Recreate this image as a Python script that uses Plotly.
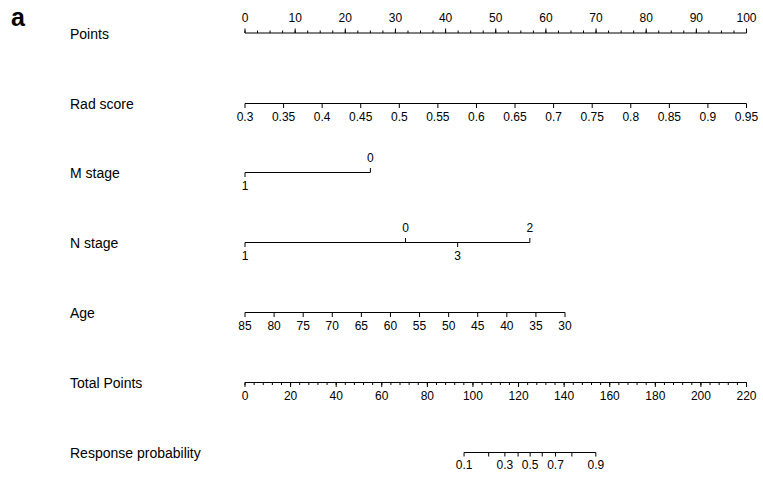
import plotly.graph_objects as go

W, H = 763, 486
LEFT_PX, RIGHT_PX = 245, 746.5
FONT = "Liberation Sans, Arial, Helvetica, sans-serif"

# ---------------- data ----------------
row_names = ["Points", "Rad score", "M stage", "N stage", "Age",
             "Total Points", "Response probability"]
row_y = [33, 103.5, 172.5, 242.5, 312.5, 382.5, 452.5]

points_labels = [0, 10, 20, 30, 40, 50, 60, 70, 80, 90, 100]
points_minor = [i * 2.5 for i in range(41)]

rad_labels = [0.3, 0.35, 0.4, 0.45, 0.5, 0.55, 0.6, 0.65, 0.7, 0.75,
              0.8, 0.85, 0.9, 0.95]
rad_text = ["0.3", "0.35", "0.4", "0.45", "0.5", "0.55", "0.6", "0.65",
            "0.7", "0.75", "0.8", "0.85", "0.9", "0.95"]

m_levels = ["1", "0"]
m_points = [0, 25]
m_side = [1, -1]          # 1 = below, -1 = above

n_levels = ["1", "0", "3", "2"]
n_points = [0, 32, 42.4, 56.8]
n_side = [1, -1, 1, -1]

age_labels = [85, 80, 75, 70, 65, 60, 55, 50, 45, 40, 35, 30]

total_labels = [0, 20, 40, 60, 80, 100, 120, 140, 160, 180, 200, 220]
total_minor = [i * 4 for i in range(56)]

prob_values = [0.1, 0.2, 0.3, 0.4, 0.5, 0.6, 0.7, 0.8, 0.9]
prob_total = [96.1, 106.9, 114.0, 119.8, 125.1, 130.4, 136.2, 143.4, 153.9]
prob_label_values = ["0.1", "", "0.3", "", "0.5", "", "0.7", "", "0.9"]


# ---------------- helpers ----------------
def axis_range(v0, p0, v1, p1):
    k = (v1 - v0) / (p1 - p0)
    return [v0 - p0 * k, v0 + (W - p0) * k]


fig = go.Figure()
LINE = dict(color="black", width=1)
MAJ, MIN = 4.5, 2.5
LAB = 14


def add_line(axis, x0, x1, y):
    fig.add_trace(go.Scatter(x=[x0, x1], y=[y, y], mode="lines", line=LINE,
                             xaxis=axis, yaxis="y", hoverinfo="skip",
                             showlegend=False, cliponaxis=False))


def add_ticks(axis, xs, y, dirs, length):
    X, Y = [], []
    for x, d in zip(xs, dirs):
        X += [x, x, None]
        Y += [y, y + d * length, None]
    fig.add_trace(go.Scatter(x=X, y=Y, mode="lines", line=LINE,
                             xaxis=axis, yaxis="y", hoverinfo="skip",
                             showlegend=False, cliponaxis=False))


def add_labels(axis, xs, y, texts, dirs, size=12):
    fig.add_trace(go.Scatter(x=xs, y=[y + d * LAB for d in dirs], text=texts,
                             mode="text", textposition="middle center",
                             textfont=dict(family=FONT, size=size, color="black"),
                             xaxis=axis, yaxis="y", hoverinfo="skip",
                             showlegend=False, cliponaxis=False))


# Points (xaxis 'x', points units)
y = row_y[0]
add_line("x", points_labels[0], points_labels[-1], y)
add_ticks("x", points_minor, y, [-1] * len(points_minor), MIN)
add_ticks("x", points_labels, y, [-1] * len(points_labels), MAJ)
add_labels("x", points_labels, y - 0.5, [str(v) for v in points_labels],
           [-1] * len(points_labels))

# Rad score (x2)
y = row_y[1]
add_line("x2", rad_labels[0], rad_labels[-1], y)
add_ticks("x2", rad_labels, y, [1] * len(rad_labels), MAJ)
add_labels("x2", rad_labels, y, rad_text, [1] * len(rad_labels))

# M stage (points units)
y = row_y[2]
add_line("x", min(m_points), max(m_points), y)
add_ticks("x", m_points, y, m_side, MAJ)
add_labels("x", m_points, y, m_levels, m_side)

# N stage (points units)
y = row_y[3]
add_line("x", min(n_points), max(n_points), y)
add_ticks("x", n_points, y, n_side, MAJ)
add_labels("x", n_points, y, n_levels, n_side)

# Age (x3)
y = row_y[4]
add_line("x3", age_labels[0], age_labels[-1], y)
add_ticks("x3", age_labels, y, [1] * len(age_labels), MAJ)
add_labels("x3", age_labels, y, [str(v) for v in age_labels],
           [1] * len(age_labels))

# Total points (x4)
y = row_y[5]
add_line("x4", total_labels[0], total_labels[-1], y)
add_ticks("x4", total_minor, y, [1] * len(total_minor), MIN)
add_ticks("x4", total_labels, y, [1] * len(total_labels), MAJ)
add_labels("x4", total_labels, y + 0.5, [str(v) for v in total_labels],
           [1] * len(total_labels))

# Response probability (total points units, x4)
y = row_y[6]
add_line("x4", prob_total[0], prob_total[-1], y)
add_ticks("x4", prob_total, y, [1] * len(prob_total), 4)
add_labels("x4", prob_total, y - 1, prob_label_values, [1] * len(prob_total))

# Row labels
annotations = [dict(x=68 / W, y=1 - (yy + 0.5) / H, xref="paper",
                    yref="paper", text=name, showarrow=False, xanchor="left",
                    yanchor="middle",
                    font=dict(family=FONT, size=14, color="black"))
               for name, yy in zip(row_names, row_y)]
annotations.append(dict(x=9 / W, y=1 - 17 / H, xref="paper",
                        yref="paper", text="<b>a</b>", showarrow=False,
                        xanchor="left", yanchor="middle",
                        font=dict(family=FONT, size=25, color="black")))

hidden = dict(visible=False, fixedrange=True, showgrid=False, zeroline=False)
fig.update_layout(
    width=W, height=H,
    margin=dict(l=0, r=0, t=0, b=0),
    paper_bgcolor="white", plot_bgcolor="white",
    showlegend=False,
    xaxis=dict(range=axis_range(0, LEFT_PX, 100, RIGHT_PX), **hidden),
    xaxis2=dict(range=axis_range(0.3, LEFT_PX, 0.95, RIGHT_PX),
                overlaying="x", **hidden),
    xaxis3=dict(range=axis_range(85, LEFT_PX, 30, 565),
                overlaying="x", **hidden),
    xaxis4=dict(range=axis_range(0, LEFT_PX, 220, RIGHT_PX),
                overlaying="x", **hidden),
    yaxis=dict(range=[H, 0], **hidden),
    annotations=annotations,
)

fig.write_html(
    "out.html",
    config={"displayModeBar": False, "staticPlot": True},
    post_script="document.body.style.margin='0px';"
                "document.body.style.overflow='hidden';",
)
